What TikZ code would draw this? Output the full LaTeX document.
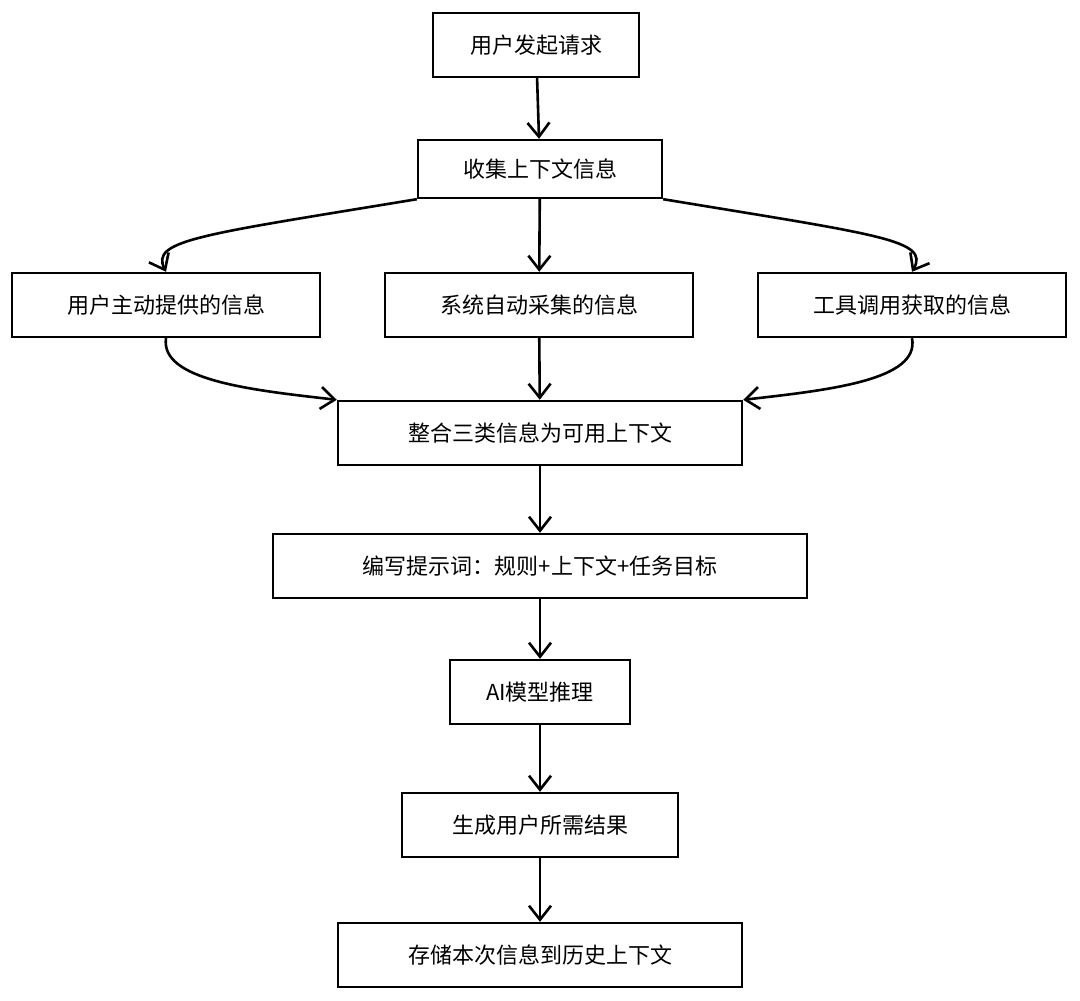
\documentclass[tikz,border=0pt]{standalone}
\usepackage{fontspec}
\setmainfont{Noto Sans CJK SC}
\usetikzlibrary{arrows.meta}
\begin{document}
\begin{tikzpicture}[x=0.5pt,y=-0.5pt,
  box/.style={draw,line width=1.2pt,minimum height=32pt,inner sep=0pt,font=\fontsize{11}{13}\selectfont},
  arr/.style={line width=1.3pt,-{Straight Barb[length=7pt,width=11pt,line width=1.3pt]}}]
\useasboundingbox (0,0) rectangle (1080,1000);
\node[box,minimum width=103pt] (req) at (536,45) {用户发起请求};
\node[box,minimum width=122pt,minimum height=29pt] (col) at (540,169) {收集上下文信息};
\node[box,minimum width=154pt] (usr) at (166,305) {用户主动提供的信息};
\node[box,minimum width=154pt] (sys) at (539,305) {系统自动采集的信息};
\node[box,minimum width=154pt] (tool) at (912,305) {工具调用获取的信息};
\node[box,minimum width=202pt] (mrg) at (540,433) {整合三类信息为可用上下文};
\node[box,minimum width=267pt] (prm) at (540,566) {编写提示词：规则+上下文+任务目标};
\node[box,minimum width=90pt] (ai) at (540,692) {\textit{AI}模型推理};
\node[box,minimum width=138pt] (res) at (540,825) {生成用户所需结果};
\node[box,minimum width=202pt] (sto) at (540,955) {存储本次信息到历史上下文};

\draw[arr] (req) -- (col);
\draw[arr] (col.south west) .. controls (200,235) and (150,240) .. (usr.north);
\draw[arr] (col) -- (sys);
\draw[arr] (col.south east) .. controls (880,235) and (930,240) .. (tool.north);
\draw[arr] (usr.south) .. controls (160,380) and (250,390) .. (mrg.north west);
\draw[arr] (sys) -- (mrg);
\draw[arr] (tool.south) .. controls (920,380) and (830,390) .. (mrg.north east);
\draw[arr] (mrg) -- (prm);
\draw[arr] (prm) -- (ai);
\draw[arr] (ai) -- (res);
\draw[arr] (res) -- (sto);
\end{tikzpicture}
\end{document}
